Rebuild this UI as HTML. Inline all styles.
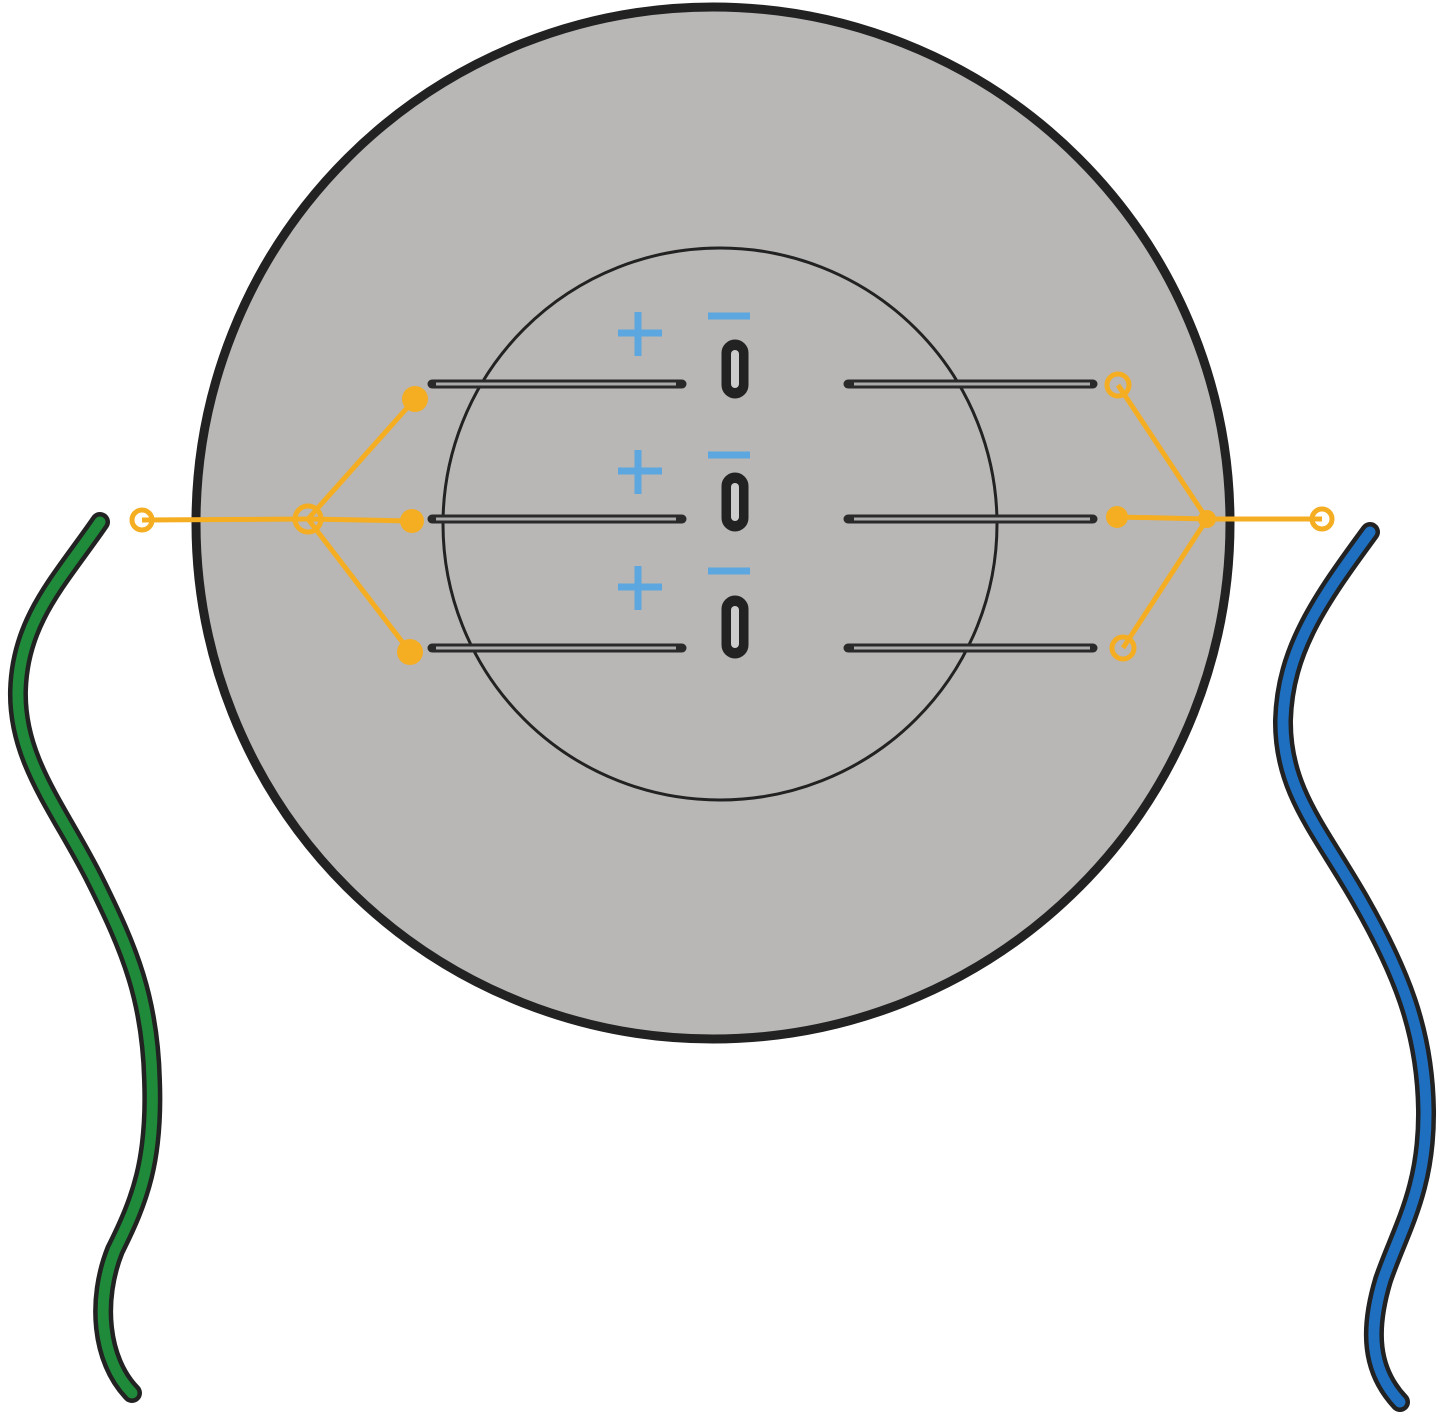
<!DOCTYPE html>
<html><head><meta charset="utf-8"><style>html,body{margin:0;padding:0;background:#fff}svg{display:block}</style></head>
<body>
<svg width="1447" height="1414" viewBox="0 0 1447 1414" xmlns="http://www.w3.org/2000/svg">
<ellipse cx="713" cy="523" rx="517" ry="516" fill="#b8b7b6" stroke="#222" stroke-width="9"/>
<ellipse cx="720" cy="524" rx="277" ry="276" fill="none" stroke="#222" stroke-width="3"/>
<g stroke="#2a2a2a" stroke-width="9" stroke-linecap="round">
<line x1="432" y1="384" x2="682" y2="384"/><line x1="432" y1="519" x2="682" y2="519"/><line x1="432" y1="648" x2="682" y2="648"/>
<line x1="848" y1="384" x2="1093" y2="384"/><line x1="848" y1="519" x2="1093" y2="519"/><line x1="848" y1="648" x2="1093" y2="648"/>
</g>
<g stroke="#aaa" stroke-width="3">
<line x1="436" y1="384" x2="676" y2="384"/><line x1="436" y1="519" x2="676" y2="519"/><line x1="436" y1="648" x2="676" y2="648"/>
<line x1="854" y1="384" x2="1090" y2="384"/><line x1="854" y1="519" x2="1090" y2="519"/><line x1="854" y1="648" x2="1090" y2="648"/>
</g>
<g fill="#222" stroke="#222">
<rect x="722" y="340" width="26" height="58" rx="13"/><rect x="722" y="473" width="26" height="58" rx="13"/><rect x="722" y="596" width="26" height="62" rx="13"/>
</g>
<g fill="#ccc"><rect x="731" y="350" width="8" height="38" rx="4"/><rect x="731" y="483" width="8" height="38" rx="4"/><rect x="731" y="606" width="8" height="42" rx="4"/></g>
<g stroke="#5ca7e0" stroke-width="7">
<line x1="618" y1="333" x2="662" y2="333"/><line x1="638" y1="312" x2="638" y2="356"/>
<line x1="618" y1="471" x2="662" y2="471"/><line x1="638" y1="450" x2="638" y2="494"/>
<line x1="618" y1="587" x2="662" y2="587"/><line x1="638" y1="566" x2="638" y2="610"/>
<line x1="708" y1="316" x2="750" y2="316"/><line x1="708" y1="455" x2="750" y2="455"/><line x1="708" y1="571" x2="750" y2="571"/>
</g>
<g stroke="#f5ad22" stroke-width="5" fill="none">
<line x1="142" y1="520" x2="308" y2="519"/><line x1="308" y1="519" x2="415" y2="399"/><line x1="308" y1="519" x2="412" y2="521"/><line x1="308" y1="519" x2="410" y2="652"/>
<line x1="1322" y1="519" x2="1207" y2="519"/><line x1="1207" y1="519" x2="1118" y2="385"/><line x1="1207" y1="519" x2="1118" y2="517"/><line x1="1207" y1="519" x2="1123" y2="648"/>
<circle cx="308" cy="519" r="13"/><circle cx="142" cy="520" r="10"/>
<circle cx="1118" cy="385" r="11"/><circle cx="1123" cy="648" r="11"/><circle cx="1322" cy="519" r="10"/>
</g>
<g fill="#f5ad22"><circle cx="415" cy="399" r="13"/><circle cx="412" cy="521" r="12"/><circle cx="410" cy="652" r="13"/><circle cx="1117" cy="517" r="11"/><circle cx="1207" cy="519" r="9"/></g>
<path d="M100 522 C60 580 20 620 18 690 C16 760 60 810 95 880 C130 950 150 1000 152 1080 C155 1160 140 1200 115 1250 C95 1300 100 1360 132 1393" fill="none" stroke="#222" stroke-width="20" stroke-linecap="round"/>
<path d="M100 522 C60 580 20 620 18 690 C16 760 60 810 95 880 C130 950 150 1000 152 1080 C155 1160 140 1200 115 1250 C95 1300 100 1360 132 1393" fill="none" stroke="#1f8a3a" stroke-width="11" stroke-linecap="round"/>
<path d="M1370 532 C1320 600 1285 650 1283 720 C1282 790 1320 830 1360 900 C1400 970 1425 1030 1426 1110 C1427 1190 1400 1230 1383 1280 C1368 1330 1370 1370 1400 1402" fill="none" stroke="#222" stroke-width="20" stroke-linecap="round"/>
<path d="M1370 532 C1320 600 1285 650 1283 720 C1282 790 1320 830 1360 900 C1400 970 1425 1030 1426 1110 C1427 1190 1400 1230 1383 1280 C1368 1330 1370 1370 1400 1402" fill="none" stroke="#1e6fc0" stroke-width="11" stroke-linecap="round"/>
</svg>
</body></html>
